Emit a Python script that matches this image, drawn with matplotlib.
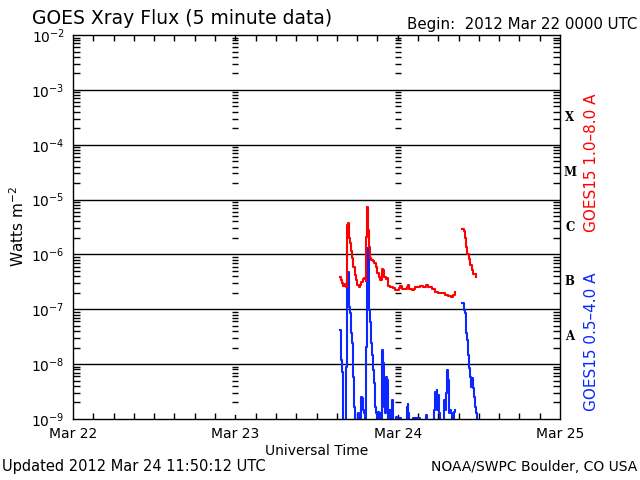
import numpy as np
import matplotlib
matplotlib.use("Agg")
import matplotlib.pyplot as plt
from matplotlib.ticker import LogLocator, NullFormatter, FixedLocator

# ---------------- data (hours since 2012 Mar 22 00:00 UTC) ----------------
red1_h = [39.48, 39.63, 39.77, 39.97, 40.27, 40.41, 40.46, 40.61, 40.76, 40.91,
          41.05, 41.25, 41.45, 41.65, 41.84, 42.04, 42.24, 42.44, 42.63, 42.83,
          43.08, 43.27, 43.37, 43.47, 43.62, 43.77, 43.91, 44.11, 44.31, 44.56,
          44.75, 45.00, 45.20, 45.39, 45.64, 45.79, 45.98, 46.23, 46.43, 46.62,
          46.87, 47.12, 47.36, 47.66, 47.96, 48.20, 48.40, 48.60, 48.84, 49.14,
          49.34, 49.48, 49.68, 50.07, 50.37, 50.57, 50.91, 51.31, 51.80, 52.19,
          52.54, 53.03, 53.52, 54.02, 54.51, 55.00, 55.50, 55.84, 56.14, 56.48]
red1_f = [3.83e-7, 3.42e-7, 2.97e-7, 2.66e-7, 2.89e-7, 2.59e-7, 3.44e-6, 3.69e-6, 1.97e-6, 1.60e-6,
          1.17e-6, 8.5e-7, 5.82e-7, 4.22e-7, 3.42e-7, 2.77e-7, 2.59e-7, 2.74e-7, 3.19e-7, 3.62e-7,
          3.66e-7, 3.32e-7, 2.11e-6, 7.43e-6, 2.79e-6, 1.39e-6, 8.5e-7, 7.92e-7, 7.7e-7, 7.08e-7,
          5.82e-7, 4.53e-7, 3.83e-7, 3.42e-7, 5.36e-7, 5.2e-7, 3.83e-7, 3.52e-7, 3.66e-7, 2.66e-7,
          2.52e-7, 2.59e-7, 2.41e-7, 2.25e-7, 2.25e-7, 2.41e-7, 2.66e-7, 2.38e-7, 2.31e-7, 2.31e-7,
          2.52e-7, 2.81e-7, 2.31e-7, 2.25e-7, 2.31e-7, 2.59e-7, 2.52e-7, 2.66e-7, 2.59e-7, 2.81e-7,
          2.59e-7, 2.31e-7, 2.09e-7, 2.01e-7, 1.95e-7, 1.82e-7, 1.75e-7, 1.70e-7, 1.82e-7, 2.09e-7]

red2_h = [57.57, 57.76, 57.91, 58.11, 58.31, 58.50, 58.70, 58.95, 59.19, 59.59]
red2_f = [2.87e-6, 2.71e-6, 1.97e-6, 1.39e-6, 1.02e-6, 8.15e-7, 6.43e-7, 5.2e-7, 4.4e-7, 3.83e-7]

blue1_h = [39.48, 39.63, 39.67, 39.82, 39.87, 39.97, 40.27, 40.36, 40.46, 40.61,
           40.76, 40.86, 40.96, 41.05, 41.15, 41.25, 41.35, 41.45, 41.55, 41.65,
           41.94, 42.09, 42.24, 42.53, 42.63, 42.78, 42.93, 43.03, 43.17, 43.32,
           43.37, 43.47, 43.62, 43.72, 43.81, 43.91, 44.01, 44.11, 44.21, 44.31,
           44.41, 44.51, 44.60, 44.70, 44.80, 44.95, 45.05, 45.20, 45.39, 45.54,
           45.69, 45.84, 45.94, 46.03, 46.13, 46.28, 46.43, 46.53, 46.62, 46.77,
           46.97, 47.17, 47.27, 47.36, 47.66, 47.81, 47.96, 48.25, 48.55, 49.24,
           49.34, 49.48, 49.58, 49.73, 50.32, 51.31, 52.19, 52.34, 53.28, 53.43,
           53.53, 53.67, 53.77, 53.87, 54.02, 54.17, 54.27, 54.76, 54.91, 55.00,
           55.15, 55.30, 55.45, 55.55, 55.64, 55.74, 55.89, 56.04, 56.24, 56.34, 56.43]
blue1_f = [4.2e-8, 4.2e-8, 1.19e-8, 7.3e-9, 1.46e-9, 9e-10, 9e-10, 9.0e-9, 2.59e-7, 4.85e-7,
           1.70e-7, 1.12e-7, 8.45e-8, 5.55e-8, 3.65e-8, 2.4e-8, 7.8e-9, 5.9e-9, 1.68e-9, 9e-10,
           9e-10, 1.27e-9, 9e-10, 9e-10, 2.55e-9, 2.38e-9, 1.46e-9, 1.27e-9, 9e-10, 9e-10,
           2.08e-8, 1.29e-6, 9.1e-7, 2.97e-7, 9.7e-8, 5.95e-8, 3.65e-8, 2.4e-8, 1.47e-8, 1.11e-8,
           7.8e-9, 4.5e-9, 2.94e-9, 1.68e-9, 1.27e-9, 9e-10, 1.36e-9, 9e-10, 1.27e-9, 9e-10,
           1.81e-8, 1.04e-8, 2.55e-9, 1.68e-9, 1.27e-9, 5.9e-9, 5.1e-9, 1.27e-9, 9e-10, 1.46e-9,
           9e-10, 2.22e-9, 1.46e-9, 9e-10, 9e-10, 1.1e-9, 9e-10, 1.05e-9, 9e-10, 9e-10,
           1.68e-9, 1.88e-9, 1.27e-9, 9e-10, 1.05e-9, 9e-10, 1.2e-9, 9e-10, 9e-10, 1.46e-9,
           3.16e-9, 2.22e-9, 3.39e-9, 1.46e-9, 2.74e-9, 1.27e-9, 9e-10, 9e-10, 2.22e-9, 1.46e-9,
           2.94e-9, 7.8e-9, 5.1e-9, 1.68e-9, 1.27e-9, 1.46e-9, 1.27e-9, 9e-10, 9e-10, 1.36e-9, 1.46e-9]

blue2_h = [57.57, 57.70, 57.82, 57.97, 58.06, 58.16, 58.26, 58.36, 58.46, 58.56,
           58.60, 58.70, 58.80, 58.90, 59.00, 59.10, 59.20, 59.30, 59.40, 59.50, 59.60, 59.70]
blue2_f = [1.32e-7, 1.32e-7, 9.7e-8, 8.45e-8, 5.55e-8, 3.65e-8, 2.75e-8, 1.94e-8, 1.47e-8, 1.11e-8,
           8.4e-9, 5.9e-9, 4.5e-9, 3.9e-9, 5.5e-9, 5.1e-9, 3.63e-9, 2.55e-9, 2.07e-9, 1.68e-9, 1.27e-9, 9e-10]

day_ticks = [0, 24, 48, 72]
day_labels = ["Mar 22", "Mar 23", "Mar 24", "Mar 25"]
decades = [1e-9, 1e-8, 1e-7, 1e-6, 1e-5, 1e-4, 1e-3, 1e-2]
class_labels = ["A", "B", "C", "M", "X"]
class_centers = [3.16e-8, 3.16e-7, 3.16e-6, 3.16e-5, 3.16e-4]

RED = "#ff0000"
BLUE = "#0a28ff"

# ---------------- figure ----------------
fig = plt.figure(figsize=(6.4, 4.8), dpi=100)
ax = fig.add_axes([73/640, 1-419/480, (560-73)/640, (419-35)/480])
ax.set_yscale("log")
ax.set_xlim(0, 72)
ax.set_ylim(1e-9, 1e-2)

for s in ax.spines.values():
    s.set_linewidth(1.0)
    s.set_color("black")

# decade grid lines
for d in decades[1:-1]:
    ax.axhline(d, color="black", lw=1.0, zorder=1)

# ladder ticks along day boundaries
minor_vals = [k*10.0**e for e in range(-9, -2) for k in range(2, 10)]
for dx in day_ticks[1:3]:
    ax.plot([dx]*len(minor_vals), minor_vals, ls="none", marker="_",
            ms=5, mew=1.0, color="black", zorder=1)
    ax.plot([dx, dx], [1e-2, 10**-2.08], color="black", lw=1.0)
    ax.plot([dx, dx], [1e-9, 10**-8.92], color="black", lw=1.0)

ax.plot(red1_h, red1_f, color=RED, lw=1.5, drawstyle="steps-post", zorder=3)
ax.plot(red2_h, red2_f, color=RED, lw=1.5, drawstyle="steps-post", zorder=3)
ax.plot(blue1_h, blue1_f, color=BLUE, lw=1.5, drawstyle="steps-post", zorder=2)
ax.plot(blue2_h, blue2_f, color=BLUE, lw=1.5, drawstyle="steps-post", zorder=2)

# ticks
ax.xaxis.set_major_locator(FixedLocator(day_ticks))
ax.set_xticklabels(day_labels, fontsize=10)
ax.xaxis.set_minor_locator(FixedLocator([h for h in range(3, 72, 3) if h % 24]))
ax.tick_params(axis="x", which="both", direction="in", top=True, bottom=True,
               length=4, width=1.0, pad=6)
ax.tick_params(axis="x", which="major", length=0)

ax.yaxis.set_major_locator(FixedLocator(decades))
ax.set_yticklabels([r"$10^{%d}$" % e for e in range(-9, -1)], fontsize=10)
ax.yaxis.set_minor_locator(LogLocator(base=10, subs=np.arange(2, 10), numticks=20))
ax.yaxis.set_minor_formatter(NullFormatter())
ax.tick_params(axis="y", which="both", direction="in", left=True, right=True, width=1.0, pad=6)
ax.tick_params(axis="y", which="minor", length=5)
ax.tick_params(axis="y", which="major", length=0)

ax.set_xlabel("Universal Time", fontsize=10, labelpad=2)
fig.text(18/640, 1-227/480, r"Watts m$^{-2}$", fontsize=11, rotation=90,
         ha="center", va="center")

# class letters
for lab, yv in zip(class_labels, class_centers):
    ax.text(1.02, yv, lab, transform=ax.get_yaxis_transform(), fontsize=8.5,
            fontweight="bold", family="DejaVu Serif", va="center", ha="center")

fig.text(592/640, 1-163/480, "GOES15 1.0\u20138.0 A", rotation=90, color=RED,
         fontsize=11, ha="center", va="center")
fig.text(592/640, 1-342/480, "GOES15 0.5\u20134.0 A", rotation=90, color=BLUE,
         fontsize=11, ha="center", va="center")

fig.text(32/640, 1-18/480, "GOES Xray Flux (5 minute data)", fontsize=13.5, va="center", ha="left")
fig.text(637/640, 1-25/480, "Begin:  2012 Mar 22 0000 UTC", fontsize=10.8, va="center", ha="right")
fig.text(2/640, 1-467/480, "Updated 2012 Mar 24 11:50:12 UTC", fontsize=10.5, va="center", ha="left")
fig.text(637/640, 1-467/480, "NOAA/SWPC Boulder, CO USA", fontsize=10, va="center", ha="right")

fig.savefig("out.png", dpi=100, facecolor="white")
